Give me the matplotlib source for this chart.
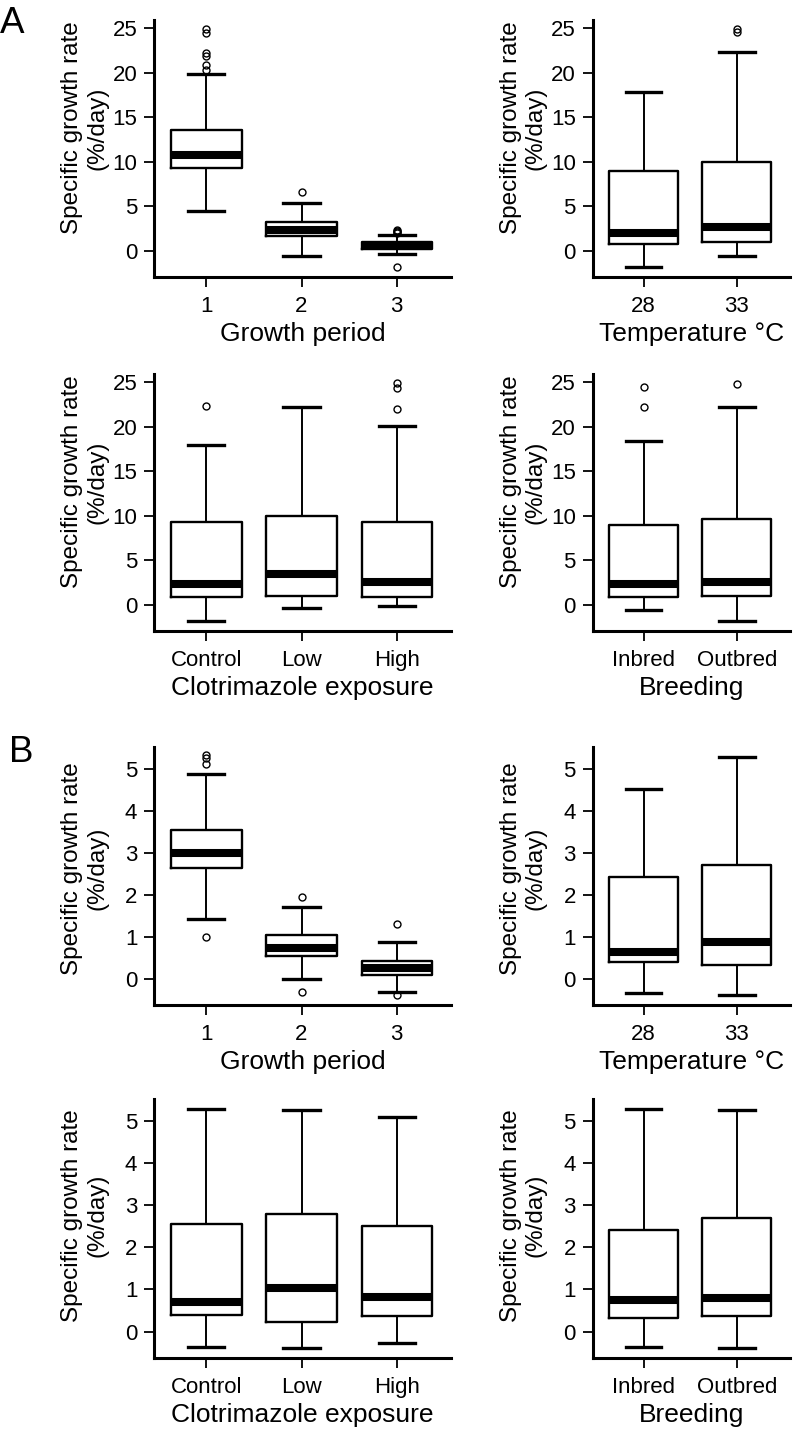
import matplotlib
matplotlib.use('Agg')
import matplotlib.pyplot as plt

plt.rcParams['font.family'] = ['Liberation Sans', 'DejaVu Sans']

# five-number summaries per group: (lower whisker, q1, median, q3, upper whisker)
# --- A: specific growth rate in length
a_period_labels = ['1', '2', '3']
a_period_stats = [(4.47, 9.27, 10.8, 13.58, 19.84),
                  (-0.6, 1.65, 2.36, 3.26, 5.4),
                  (-0.37, 0.16, 0.58, 1.0, 1.77)]
a_period_fliers = [[24.9, 24.5, 22.2, 21.9, 20.9, 20.3], [6.57], [2.3, 2.2, 2.1, 2.0, -1.8]]

a_temp_labels = ['28', '33']
a_temp_stats = [(-1.8, 0.72, 1.96, 9.0, 17.8),
                (-0.6, 0.94, 2.7, 10.0, 22.3)]
a_temp_fliers = [[], [24.9, 24.6]]

a_clot_labels = ['Control', 'Low', 'High']
a_clot_stats = [(-1.8, 0.82, 2.28, 9.28, 18.0),
                (-0.37, 0.93, 3.4, 10.0, 22.2),
                (-0.12, 0.82, 2.58, 9.28, 20.1)]
a_clot_fliers = [[22.3], [], [24.9, 24.4, 21.96]]

a_breed_labels = ['Inbred', 'Outbred']
a_breed_stats = [(-0.56, 0.82, 2.28, 8.98, 18.4),
                 (-1.8, 0.93, 2.58, 9.6, 22.2)]
a_breed_fliers = [[24.5, 22.2], [24.8]]

# --- B: specific growth rate in weight
b_period_labels = ['1', '2', '3']
b_period_stats = [(1.42, 2.63, 3.01, 3.54, 4.88),
                  (0.0, 0.55, 0.74, 1.03, 1.72),
                  (-0.33, 0.08, 0.26, 0.42, 0.87)]
b_period_fliers = [[5.34, 5.26, 5.12, 1.0], [1.94, -0.33], [1.3, -0.4]]

b_temp_labels = ['28', '33']
b_temp_stats = [(-0.35, 0.39, 0.63, 2.43, 4.52),
                (-0.4, 0.32, 0.87, 2.72, 5.3)]
b_temp_fliers = [[], []]

b_clot_labels = ['Control', 'Low', 'High']
b_clot_stats = [(-0.36, 0.4, 0.71, 2.56, 5.29),
                (-0.4, 0.22, 1.04, 2.79, 5.26),
                (-0.28, 0.36, 0.82, 2.52, 5.1)]
b_clot_fliers = [[], [], []]

b_breed_labels = ['Inbred', 'Outbred']
b_breed_stats = [(-0.36, 0.32, 0.74, 2.42, 5.29),
                 (-0.4, 0.36, 0.8, 2.69, 5.26)]
b_breed_fliers = [[], []]

a_yticks = [0, 5, 10, 15, 20, 25]
b_yticks = [0, 1, 2, 3, 4, 5]
ylab = 'Specific growth rate\n(%/day)'

W, H = 799, 1432
fig = plt.figure(figsize=(W / 100, H / 100), dpi=100)


def add_panel(left, top, right, bottom):
    return fig.add_axes([left / W, 1 - bottom / H, (right - left) / W, (bottom - top) / H])


def draw(ax, labels, stats, fliers, ylim, yticks, xlabel, ylab_y):
    n = len(labels)
    bstats = []
    for lab, s, f in zip(labels, stats, fliers):
        bstats.append(dict(label=lab, whislo=s[0], q1=s[1], med=s[2], q3=s[3],
                           whishi=s[4], fliers=f))
    ax.bxp(bstats, positions=range(1, n + 1), widths=0.74, capwidths=0.38,
           boxprops=dict(color='black', linewidth=1.7),
           whiskerprops=dict(color='black', linewidth=1.4, linestyle='-'),
           capprops=dict(color='black', linewidth=2.4),
           medianprops=dict(color='black', linewidth=5.8, solid_capstyle='butt'),
           flierprops=dict(marker='o', markersize=5, markerfacecolor='none',
                           markeredgecolor='black', markeredgewidth=1.0))
    ax.set_xlim(0.45, n + 0.57)
    ax.set_ylim(ylim)
    ax.set_yticks(yticks)
    for side in ['top', 'right']:
        ax.spines[side].set_visible(False)
    for side in ['left', 'bottom']:
        ax.spines[side].set_linewidth(2.2)
        ax.spines[side].set_capstyle('projecting')
    ax.tick_params(axis='both', direction='out', length=7.5, width=1.3, labelsize=16)
    ax.tick_params(axis='x', pad=6.5)
    ax.tick_params(axis='y', pad=4.5)
    wpx = ax.get_position().width * W
    hpx = ax.get_position().height * H
    ax.set_ylabel(ylab, fontsize=17.5, linespacing=1.15)
    ax.yaxis.set_label_coords(-46 / wpx, ylab_y)
    ax.set_xlabel(xlabel, fontsize=19)
    ax.xaxis.set_label_coords(0.5, -45 / hpx)


rows = [(20, 277), (374, 631), (747, 1005), (1099, 1358)]
left_col = (154, 451)
right_col = (592.5, 790)
a_ylim = (-2.96, 25.95)
b_ylim = (-0.63, 5.53)

ax = add_panel(left_col[0], rows[0][0], left_col[1], rows[0][1])
draw(ax, a_period_labels, a_period_stats, a_period_fliers, a_ylim, a_yticks, 'Growth period', 0.58)
ax = add_panel(right_col[0], rows[0][0], right_col[1], rows[0][1])
draw(ax, a_temp_labels, a_temp_stats, a_temp_fliers, a_ylim, a_yticks, 'Temperature °C', 0.58)
ax = add_panel(left_col[0], rows[1][0], left_col[1], rows[1][1])
draw(ax, a_clot_labels, a_clot_stats, a_clot_fliers, a_ylim, a_yticks, 'Clotrimazole exposure', 0.58)
ax = add_panel(right_col[0], rows[1][0], right_col[1], rows[1][1])
draw(ax, a_breed_labels, a_breed_stats, a_breed_fliers, a_ylim, a_yticks, 'Breeding', 0.58)

ax = add_panel(left_col[0], rows[2][0], left_col[1], rows[2][1])
draw(ax, b_period_labels, b_period_stats, b_period_fliers, b_ylim, b_yticks, 'Growth period', 0.53)
ax = add_panel(right_col[0], rows[2][0], right_col[1], rows[2][1])
draw(ax, b_temp_labels, b_temp_stats, b_temp_fliers, b_ylim, b_yticks, 'Temperature °C', 0.53)
ax = add_panel(left_col[0], rows[3][0], left_col[1], rows[3][1])
draw(ax, b_clot_labels, b_clot_stats, b_clot_fliers, b_ylim, b_yticks, 'Clotrimazole exposure', 0.55)
ax = add_panel(right_col[0], rows[3][0], right_col[1], rows[3][1])
draw(ax, b_breed_labels, b_breed_stats, b_breed_fliers, b_ylim, b_yticks, 'Breeding', 0.55)

fig.text(0 / W, 1 - 33 / H, 'A', fontsize=26.5, va='baseline', ha='left')
fig.text(9 / W, 1 - 762 / H, 'B', fontsize=26.5, va='baseline', ha='left')

fig.savefig('out.png', dpi=100, facecolor='white')
